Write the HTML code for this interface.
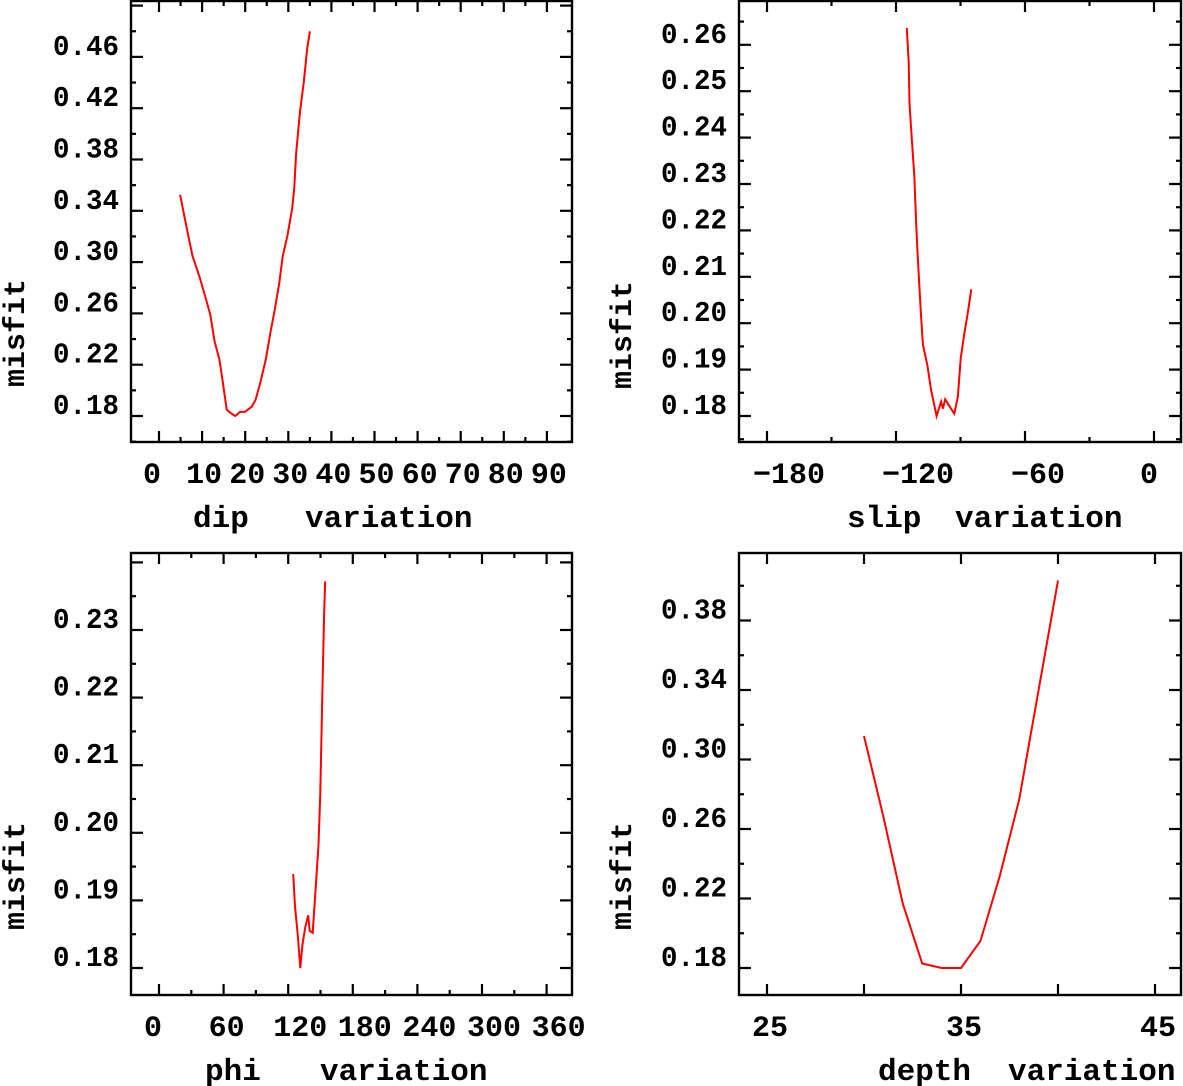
<!DOCTYPE html>
<html><head><meta charset="utf-8">
<style>
html,body{margin:0;padding:0;background:#fff;}
svg{display:block;}
text{font-family:"Liberation Mono","DejaVu Sans Mono",monospace;font-weight:bold;fill:#000;}
</style></head>
<body>
<svg id="chart" width="1183" height="1086" viewBox="0 0 1183 1086" xmlns="http://www.w3.org/2000/svg"></svg>
<script>
// ---- dip panel data ----
const dipX = [4.9,6.8,7.8,9.4,11,11.9,12.9,14,14.7,15.7,16.6,17.7,18.8,19.9,21.5,22.4,23.5,24.8,25.9,26.8,27.9,28.7,29.8,30.9,31.4,31.8,32.7,33.6,34.4,35];
const dipY = [0.3525,0.3205,0.3045,0.2885,0.27,0.259,0.238,0.2245,0.2085,0.185,0.1824,0.18,0.1832,0.1832,0.1872,0.1925,0.2059,0.2245,0.2459,0.2619,0.2832,0.3045,0.3205,0.3419,0.358,0.3845,0.4165,0.4405,0.4672,0.48];
const dipTicks = [0,10,20,30,40,50,60,70,80,90];
const dipYTicks = ["0.18","0.22","0.26","0.30","0.34","0.38","0.42","0.46"];
// ---- slip panel data ----
const slipX = [-115,-114.1,-113.7,-112.7,-111.5,-110.6,-110.1,-109.4,-108.5,-107.5,-105.4,-103.7,-101.1,-99,-98.2,-97.1,-95,-92.9,-91.2,-89.9,-88.5,-86.4,-85];
const slipY = [0.2636,0.2563,0.2474,0.240,0.2318,0.2214,0.2162,0.2102,0.2028,0.1954,0.1909,0.1857,0.180,0.1831,0.1816,0.1836,0.182,0.1805,0.1842,0.1924,0.1969,0.2028,0.2073];
const slipTicks = [-180,-120,-60,0];
const slipYTicks = ["0.18","0.19","0.20","0.21","0.22","0.23","0.24","0.25","0.26"];
// ---- phi panel data ----
const phiX = [124.6,126.3,128.8,131.2,133.3,135.8,138.6,140,142.8,145.6,148.1,149.8,151.6,153.3,154.4];
const phiY = [0.1939,0.1891,0.185,0.180,0.1835,0.186,0.1878,0.1855,0.1852,0.1921,0.1982,0.2059,0.2196,0.2323,0.2372];
const phiTicks = [0,60,120,180,240,300,360];
const phiYTicks = ["0.18","0.19","0.20","0.21","0.22","0.23"];
// ---- depth panel data ----
const depthX = [30,31,32,33,34,35,36,37,38,39,40];
const depthY = [0.3135,0.267,0.217,0.1826,0.18,0.18,0.1955,0.233,0.277,0.340,0.403];
const depthTicks = [25,35,45];
const depthYTicks = ["0.18","0.22","0.26","0.30","0.34","0.38"];

const NS = "http://www.w3.org/2000/svg";
const svg = document.getElementById("chart");
function mk(tag, attrs, parent){
  const e = document.createElementNS(NS, tag);
  for (const k in attrs) e.setAttribute(k, attrs[k]);
  (parent||svg).appendChild(e);
  return e;
}

function panel(cfg){
  const g = mk("g", {});
  
  
  const sx = v => cfg.x0px + (v - cfg.x0) * cfg.xs;
  const sy = v => cfg.y0px - (v - cfg.y0) * cfg.ys;
  const L=cfg.left,R=cfg.right,T=cfg.top,B=cfg.bottom;
  const frame = mk("rect",{x:L,y:T,width:R-L,height:B-T,fill:"none",stroke:"#000","stroke-width":2.4},g);
  
  
  for (let v=cfg.xmin; v<=cfg.xmax+1e-9; v+=cfg.xminor){
    const px = sx(v); if (px<L||px>R) continue;
    const major = Math.abs(((v-cfg.xmin)/cfg.xmajor) - Math.round((v-cfg.xmin)/cfg.xmajor))<1e-6;
    const len = major?11:5;
    mk("line",{x1:px,y1:B,x2:px,y2:B-len,stroke:"#000","stroke-width":2.2},g);
    mk("line",{x1:px,y1:T,x2:px,y2:T+len,stroke:"#000","stroke-width":2.2},g);
  }
  for (let v=cfg.ymin; v<=cfg.ymax+1e-9; v+=cfg.yminor){
    const py = sy(v); if (py<T||py>B) continue;
    const major = Math.abs(((v-cfg.y0)/cfg.ymajor) - Math.round((v-cfg.y0)/cfg.ymajor))<1e-6;
    const len = major?12:5;
    mk("line",{x1:L,y1:py,x2:L+len,y2:py,stroke:"#000","stroke-width":2.2},g);
    mk("line",{x1:R,y1:py,x2:R-len,y2:py,stroke:"#000","stroke-width":2.2},g);
  }
  cfg.xticks.forEach(v=>{
    const t = mk("text",{x:sx(v)-cfg.xlOff,y:B+41,"font-size":30,"text-anchor":"start"},g);
    t.textContent = v<0 ? "\u2212"+Math.abs(v) : String(v);
    
    
  });
  cfg.yticks.forEach(s=>{
    const t = mk("text",{x:L-12,y:sy(parseFloat(s))-2,"font-size":29,"text-anchor":"end",textLength:66,lengthAdjust:"spacingAndGlyphs"},g);
    t.textContent = s;
    
    
  });
  const t1 = mk("text",{x:cfg.t1x,y:B+85,"font-size":31},g);
  t1.textContent = cfg.t1;
  
  
  const t2 = mk("text",{x:cfg.t2x,y:B+85,"font-size":31},g);
  t2.textContent = "variation";
  
  
  const yt = mk("text",{x:0,y:0,"font-size":30,"text-anchor":"middle",transform:`translate(${cfg.ytx},${cfg.yty}) rotate(-90)`},g);
  yt.textContent = "misfit";
  
  
  const pts = cfg.xs_.map((v,i)=>sx(v).toFixed(1)+","+sy(cfg.ys_[i]).toFixed(1)).join(" ");
  const line = mk("polyline",{points:pts,fill:"none",stroke:"#ff0000","stroke-width":2},g);
  
  
}

panel({name:"dip-panel",left:131,right:572,top:1,bottom:442,x0:0,x0px:159,xs:4.31,y0:0.18,y0px:416,ys:51.3/0.04,
  xmin:0,xmax:90,xminor:5,xmajor:10,ymin:0.16,ymax:0.50,yminor:0.02,ymajor:0.04,
  xticks:dipTicks,yticks:dipYTicks,xlOff:16,t1:"dip",t1x:193,t2x:305,ytx:24,yty:333,xs_:dipX,ys_:dipY});
panel({name:"slip-panel",left:739,right:1181,top:1,bottom:442,x0:-180,x0px:767,xs:2.15,y0:0.18,y0px:416,ys:46.4/0.01,
  xmin:-180,xmax:0,xminor:30,xmajor:60,ymin:0.175,ymax:0.27,yminor:0.005,ymajor:0.01,
  xticks:slipTicks,yticks:slipYTicks,xlOff:14,t1:"slip",t1x:847,t2x:955,ytx:631,yty:335,xs_:slipX,ys_:slipY});
panel({name:"phi-panel",left:131,right:572,top:553,bottom:995,x0:0,x0px:159,xs:32.3/30,y0:0.18,y0px:968,ys:67.6/0.01,
  xmin:0,xmax:360,xminor:30,xmajor:60,ymin:0.175,ymax:0.24,yminor:0.005,ymajor:0.01,
  xticks:phiTicks,yticks:phiYTicks,xlOff:15,t1:"phi",t1x:205,t2x:320,ytx:24,yty:876,xs_:phiX,ys_:phiY});
panel({name:"depth-panel",left:739,right:1181,top:553,bottom:995,x0:25,x0px:767,xs:97/5,y0:0.18,y0px:968,ys:69.5/0.04,
  xmin:25,xmax:45,xminor:5,xmajor:5,ymin:0.16,ymax:0.42,yminor:0.02,ymajor:0.04,
  xticks:depthTicks,yticks:depthYTicks,xlOff:15,t1:"depth",t1x:878,t2x:1008,ytx:631,yty:876,xs_:depthX,ys_:depthY});
</script>
</body></html>
